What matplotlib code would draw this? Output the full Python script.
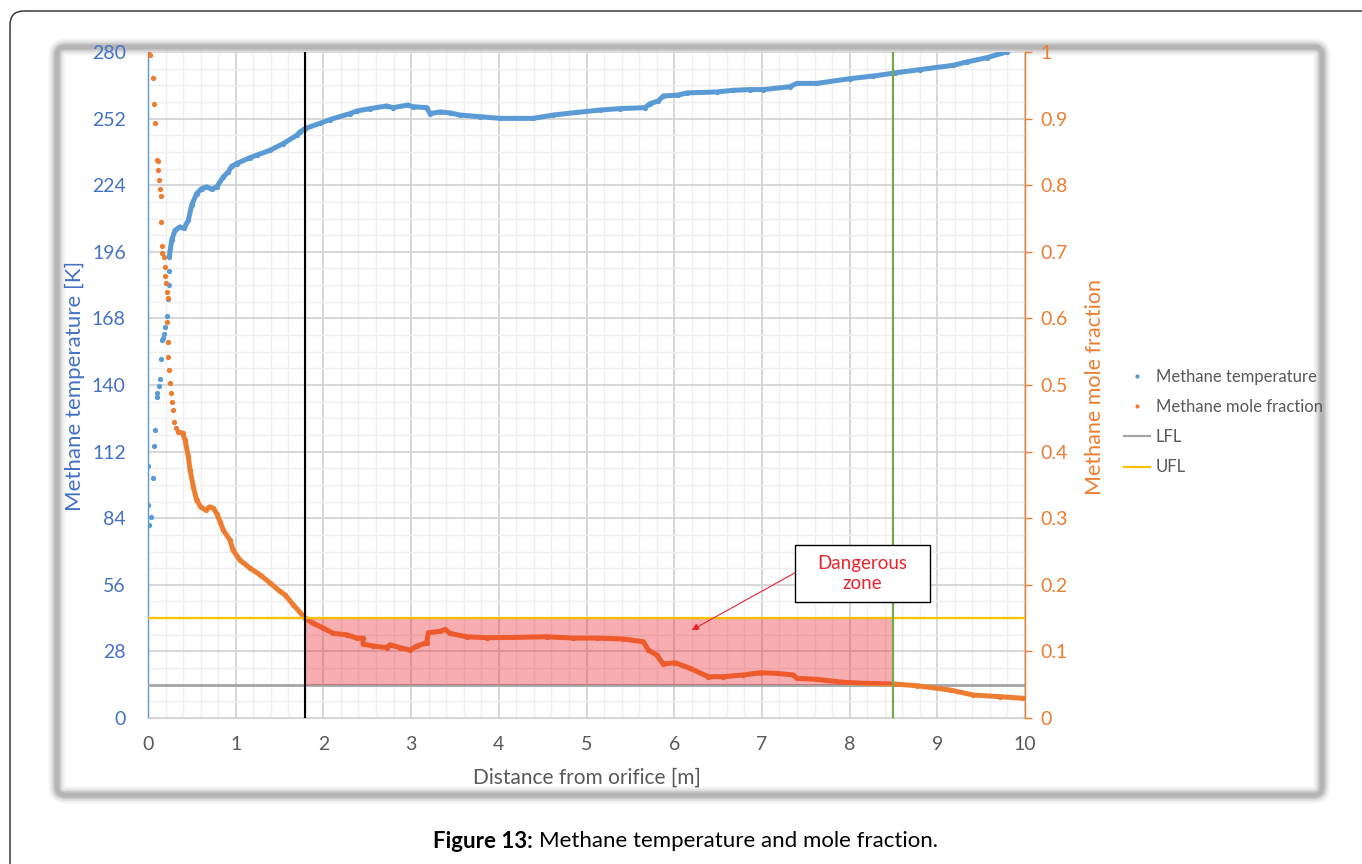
import matplotlib
matplotlib.use("Agg")
import matplotlib.pyplot as plt
from matplotlib.patches import FancyBboxPatch, Rectangle
from matplotlib.lines import Line2D
from matplotlib.ticker import MultipleLocator, FixedLocator, FixedFormatter

plt.rcParams['font.family'] = ['Lato', 'DejaVu Sans']

# ---- data -------------------------------------------------------------
# Methane temperature [K] vs distance from orifice [m]
temp_x = [0.00, 0.00, 0.015, 0.034, 0.060, 0.068, 0.080, 0.099, 0.106, 0.122,
          0.137, 0.145, 0.156, 0.175, 0.186, 0.194, 0.220, 0.230, 0.235, 0.240,
          0.243, 0.270, 0.308, 0.365, 0.410, 0.460, 0.498, 0.555, 0.612, 0.669,
          0.726, 0.783, 0.859, 0.916, 0.954, 1.011, 1.163, 1.239, 1.391, 1.543,
          1.696, 1.733, 1.790, 1.961, 2.075, 2.303, 2.380, 2.531, 2.722, 2.794,
          2.965, 3.022, 3.178, 3.216, 3.330, 3.444, 3.558, 3.786, 4.014, 4.393,
          4.621, 4.888, 5.154, 5.382, 5.667, 5.724, 5.819, 5.876, 6.047, 6.142,
          6.485, 6.674, 6.864, 7.016, 7.320, 7.397, 7.625, 8.005, 8.270, 8.518,
          8.803, 9.182, 9.335, 9.563, 9.791]
temp_k = [106.0, 89.5, 81.1, 84.4, 100.7, 114.3, 121.0, 136.5, 135.0, 139.7,
          142.4, 150.8, 158.9, 159.6, 161.4, 164.5, 169.0, 176.0, 182.0, 188.0,
          193.9, 200.9, 205.0, 206.5, 205.8, 209.3, 215.6, 220.5, 222.6, 223.3,
          222.3, 223.3, 227.5, 229.6, 232.0, 233.1, 235.6, 236.6, 238.7, 241.5,
          245.0, 246.4, 247.8, 250.0, 251.6, 254.1, 255.2, 256.2, 257.3, 256.6,
          257.7, 257.0, 256.6, 254.1, 254.8, 254.4, 253.5, 252.8, 252.1, 252.1,
          253.5, 254.6, 255.6, 256.2, 256.6, 258.3, 259.4, 261.5, 261.9, 262.8,
          263.2, 263.9, 264.2, 264.2, 265.4, 266.8, 266.8, 268.8, 269.9, 271.2,
          272.6, 274.4, 275.8, 277.6, 280.0]

# Methane mole fraction [-] vs distance from orifice [m]
frac_x = [0.000, 0.023, 0.054, 0.068, 0.080, 0.099, 0.110, 0.117, 0.125, 0.137,
          0.145, 0.147, 0.156, 0.163, 0.182, 0.190, 0.192, 0.205, 0.213, 0.222,
          0.225, 0.231, 0.233, 0.243, 0.251, 0.259, 0.270, 0.282, 0.296, 0.316,
          0.345, 0.396, 0.422, 0.460, 0.479, 0.517, 0.555, 0.601, 0.661, 0.699,
          0.745, 0.783, 0.821, 0.859, 0.935, 0.969, 1.049, 1.163, 1.277, 1.391,
          1.505, 1.562, 1.657, 1.790, 1.885, 1.999, 2.113, 2.266, 2.380, 2.450,
          2.452, 2.569, 2.722, 2.759, 2.873, 2.987, 3.064, 3.178, 3.196, 3.330,
          3.387, 3.444, 3.634, 3.862, 4.165, 4.546, 4.849, 5.116, 5.420, 5.648,
          5.705, 5.800, 5.876, 6.009, 6.180, 6.389, 6.560, 6.788, 6.978, 7.169,
          7.358, 7.397, 7.625, 7.928, 8.195, 8.518, 8.765, 9.145, 9.411, 9.715,
          9.980]
frac_v = [1.000, 0.995, 0.961, 0.922, 0.894, 0.838, 0.823, 0.837, 0.808, 0.795,
          0.784, 0.745, 0.709, 0.698, 0.692, 0.677, 0.664, 0.653, 0.640, 0.594,
          0.630, 0.565, 0.5425, 0.5225, 0.5025, 0.4875, 0.475, 0.4625, 0.445, 0.435,
          0.430, 0.4275, 0.4175, 0.3925, 0.3725, 0.347, 0.327, 0.317, 0.312, 0.317,
          0.315, 0.307, 0.295, 0.282, 0.267, 0.252, 0.237, 0.225, 0.215, 0.203,
          0.190, 0.185, 0.170, 0.150, 0.142, 0.135, 0.127, 0.125, 0.120, 0.120,
          0.111, 0.108, 0.1057, 0.110, 0.1057, 0.102, 0.108, 0.113, 0.128, 0.130,
          0.133, 0.127, 0.122, 0.1206, 0.121, 0.122, 0.120, 0.120, 0.1186, 0.1146,
          0.102, 0.0946, 0.081, 0.083, 0.0745, 0.062, 0.062, 0.0646, 0.068, 0.067,
          0.0646, 0.0596, 0.058, 0.0536, 0.052, 0.051, 0.0485, 0.042, 0.0345, 0.032,
          0.0296]

LFL = 0.05
UFL = 0.15
x_ufl_cross = 1.79   # distance where the fraction falls below UFL
x_lfl_cross = 8.50   # distance where the fraction falls below LFL

x_ticks = list(range(0, 11))
t_ticks = list(range(0, 281, 28))
f_ticks = [0, 0.1, 0.2, 0.3, 0.4, 0.5, 0.6, 0.7, 0.8, 0.9, 1]
f_tick_labels = ['0', '0.1', '0.2', '0.3', '0.4', '0.5', '0.6', '0.7', '0.8', '0.9', '1']

# ---- styling ----------------------------------------------------------
BLUE = '#5b9bd5'
BLUE_TXT = '#4472c4'
ORANGE = '#ed7d31'
GRAY_TXT = '#595959'

W, H = 1362, 864
fig = plt.figure(figsize=(W / 100, H / 100), dpi=100)
fig.patch.set_facecolor('white')

# decoration layer in pixel coordinates
deco = fig.add_axes([0, 0, 1, 1], zorder=-10)
deco.set_xlim(0, W)
deco.set_ylim(H, 0)
deco.axis('off')

outer = FancyBboxPatch((10, 11), 1420, 900, boxstyle='round,pad=0,rounding_size=14',
                       fc='none', ec='#3a3a3a', lw=1.1)
deco.add_patch(outer)
for lw, a in [(12, 0.10), (9, 0.16), (6, 0.26), (3.5, 0.35)]:
    deco.add_patch(FancyBboxPatch((57, 47), 1322 - 57, 795 - 47,
                                  boxstyle='round,pad=0,rounding_size=8',
                                  fc='none', ec='#8c8c8c', lw=lw, alpha=a))

# main axes
L, R, B, T = 148, 1025, 718, 52
ax = fig.add_axes([L / W, 1 - B / H, (R - L) / W, (B - T) / H])
ax.set_facecolor('white')
ax2 = ax.twinx()

ax.set_xlim(0, 10)
ax.set_ylim(0, 280)
ax2.set_ylim(0, 1)

ax.xaxis.set_major_locator(FixedLocator(x_ticks))
ax.xaxis.set_minor_locator(MultipleLocator(0.2))
ax.yaxis.set_major_locator(FixedLocator(t_ticks))
ax.yaxis.set_minor_locator(MultipleLocator(7))
ax.grid(which='major', color='#d4d4d4', lw=1.3)
ax.grid(which='minor', color='#efefef', lw=1.0)
ax.set_axisbelow(True)

for s in ['top', 'right']:
    ax.spines[s].set_visible(False)
ax.spines['bottom'].set_color('#d4d4d4')
ax.spines['left'].set_color(BLUE)
ax.spines['left'].set_linewidth(1.0)
ax.tick_params(which='both', length=0)
ax.tick_params(axis='x', labelsize=14, labelcolor=GRAY_TXT, pad=13)
ax.tick_params(axis='y', labelsize=14, labelcolor=BLUE_TXT, pad=16)

for s in ['top', 'left', 'bottom']:
    ax2.spines[s].set_visible(False)
ax2.spines['right'].set_color(ORANGE)
ax2.spines['right'].set_linewidth(1.0)
ax2.yaxis.set_major_locator(FixedLocator(f_ticks))
ax2.yaxis.set_major_formatter(FixedFormatter(f_tick_labels))
ax2.tick_params(axis='y', length=5, width=1, color=ORANGE, direction='out',
                labelsize=14, labelcolor=ORANGE, pad=6)

# temperature series
n_sparse_t = 20
ax.plot(temp_x[:n_sparse_t], temp_k[:n_sparse_t], ls='none', marker='o', ms=3.8,
        color=BLUE, mec='none', zorder=3)
ax.plot(temp_x[n_sparse_t:], temp_k[n_sparse_t:], ls='-', lw=3.6, marker='o', ms=3.8,
        color=BLUE, mec='none', solid_capstyle='round', solid_joinstyle='round', zorder=3)

# flammability limits and boundaries
ax2.axhline(LFL, color='#a5a5a5', lw=2.0, zorder=2)
ax2.axhline(UFL, color='#ffc000', lw=1.6, zorder=6)
ax2.axvline(x_ufl_cross, color='black', lw=1.5, zorder=6)
ax2.axvline(x_lfl_cross, color='#70ad47', lw=1.6, zorder=6)

# mole fraction series
n_sparse_f = 30
ax2.plot(frac_x[:n_sparse_f], frac_v[:n_sparse_f], ls='none', marker='o', ms=3.8,
         color=ORANGE, mec='none', zorder=4)
ax2.plot(frac_x[n_sparse_f:], frac_v[n_sparse_f:], ls='-', lw=3.6, marker='o', ms=3.8,
         color=ORANGE, mec='none', solid_capstyle='round', solid_joinstyle='round', zorder=4)

# flammable region between UFL and LFL crossings
ax2.add_patch(Rectangle((x_ufl_cross, LFL), x_lfl_cross - x_ufl_cross, UFL - LFL,
                        fc='#ed1c24', ec='none', alpha=0.36, zorder=5))

# callout
bx0, bx1, by0, by1 = 7.377, 8.917, 0.174, 0.260
ax2.add_patch(Rectangle((bx0, by0), bx1 - bx0, by1 - by0, fc='white', ec='black',
                        lw=1.0, zorder=7))
ax2.text((bx0 + bx1) / 2, (by0 + by1) / 2, 'Dangerous\nzone', ha='center', va='center',
         fontsize=13.5, color='#e8242c', linespacing=1.25, zorder=8)
ax2.annotate('', xy=(6.20, 0.132), xytext=(bx0, 0.218),
             arrowprops=dict(arrowstyle='-|>', color='#e8242c', lw=0.8,
                             mutation_scale=10, shrinkA=0, shrinkB=0), zorder=8)

# axis titles
fig.text(75 / W, 1 - 386 / H, 'Methane temperature [K]', rotation=90, ha='center',
         va='center', fontsize=16, color=BLUE_TXT)
fig.text(1095 / W, 1 - 387 / H, 'Methane mole fraction', rotation=90, ha='center',
         va='center', fontsize=15.5, color=ORANGE)
fig.text(587 / W, 1 - 778 / H, 'Distance from orifice [m]', ha='center', va='center',
         fontsize=15, color=GRAY_TXT)

# legend
handles = [
    Line2D([], [], ls='none', marker='o', ms=3, color=BLUE, mec='none'),
    Line2D([], [], ls='none', marker='o', ms=3, color=ORANGE, mec='none'),
    Line2D([], [], color='#a5a5a5', lw=1.6),
    Line2D([], [], color='#ffc000', lw=1.6),
]
labels = ['Methane temperature', 'Methane mole fraction', 'LFL', 'UFL']
fig.legend(handles, labels, loc='upper left', bbox_to_anchor=(1124 / W, 1 - 369 / H),
           frameon=False, fontsize=12, handlelength=1.55, handletextpad=0.35,
           labelspacing=0.85, borderpad=0, borderaxespad=0, labelcolor=GRAY_TXT)

# caption
fig.text(533 / W, 1 - 841 / H, 'Figure 13:', ha='right', va='center', fontsize=16,
         fontweight='bold', color='black')
fig.text(539 / W, 1 - 841 / H, 'Methane temperature and mole fraction.', ha='left',
         va='center', fontsize=16, color='black')

fig.savefig('out.png', dpi=100)
